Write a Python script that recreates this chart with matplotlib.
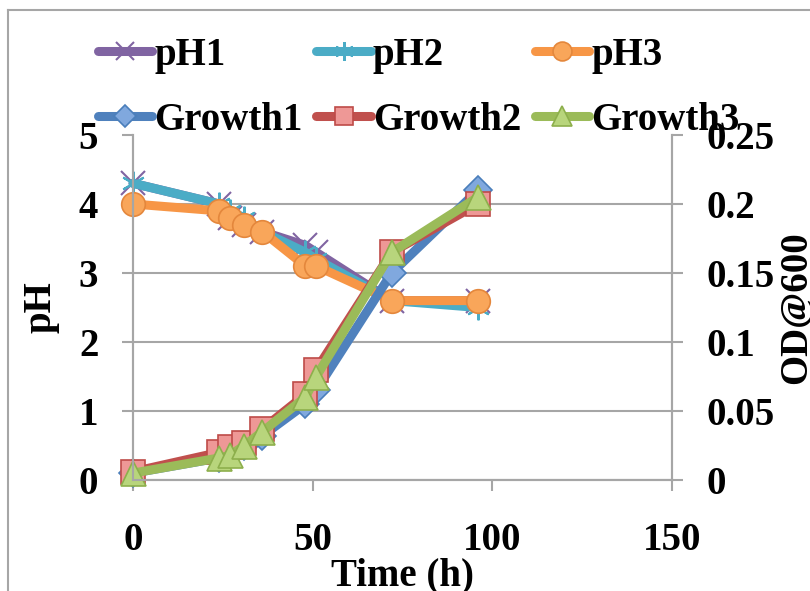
import matplotlib
matplotlib.use("Agg")
import matplotlib.pyplot as plt
from matplotlib.lines import Line2D

# data
time = [0, 24, 27, 31, 36, 48, 51, 72, 96]
ph1 = [4.3, 4.0, 3.8, 3.7, 3.6, 3.4, 3.3, 2.6, 2.6]
ph2 = [4.3, 4.0, 3.9, 3.8, 3.6, 3.3, 3.2, 2.6, 2.5]
ph3 = [4.0, 3.9, 3.8, 3.7, 3.6, 3.1, 3.1, 2.6, 2.6]
growth1 = [0.005, 0.016, 0.020, 0.025, 0.032, 0.055, 0.065, 0.150, 0.210]
growth2 = [0.006, 0.020, 0.024, 0.027, 0.037, 0.062, 0.080, 0.165, 0.200]
growth3 = [0.005, 0.016, 0.018, 0.025, 0.035, 0.060, 0.075, 0.165, 0.205]

ph_ticks = [0, 1, 2, 3, 4, 5]
od_ticks = [0, 0.05, 0.1, 0.15, 0.2, 0.25]
time_ticks = [0, 50, 100, 150]

plt.rcParams['font.family'] = ['Liberation Serif', 'DejaVu Serif']
plt.rcParams['font.weight'] = 'bold'

grey = '#A6A6A6'
fs = 28

fig = plt.figure(figsize=(8.1, 5.91), dpi=100)
ax = fig.add_axes([133/810, 111/591, 539/810, 345/591])
ax2 = ax.twinx()

lw = 6.5
ms = 17
# ! pH series on the left axis
ax.plot(time, ph1, color='#8064A2', lw=lw, marker='x', ms=ms, mew=1.5,
        mec='#8064A2', label='pH1', clip_on=False, solid_capstyle='round')
ax.plot(time, ph2, color='#4BACC6', lw=lw, marker=(6, 2, 0), ms=ms, mew=1.5,
        mec='#4BACC6', label='pH2', clip_on=False, solid_capstyle='round')
ax.plot(time, ph3, color='#F79646', lw=lw, marker='o', ms=ms, mew=1.2,
        mfc='#F9A65A', mec='#E4873C', label='pH3', clip_on=False, solid_capstyle='round')

# ! growth on the right axis
ax2.plot(time, growth1, color='#4F81BD', lw=lw, marker='D', ms=ms-3, mew=1.2,
         mfc='#80A8DE', mec='#4A7EBB', label='Growth1', clip_on=False, solid_capstyle='round')
ax2.plot(time, growth2, color='#C0504D', lw=lw, marker='s', ms=ms, mew=1.2,
         mfc='#EE9896', mec='#BE4B48', label='Growth2', clip_on=False, solid_capstyle='round')
ax2.plot(time, growth3, color='#9BBB59', lw=lw, marker='^', ms=ms+1, mew=1.2,
         mfc='#B8D57C', mec='#8DAF4C', label='Growth3', clip_on=False, solid_capstyle='round')

ax.set_xlim(0, 150)
ax.set_ylim(0, 5)
ax2.set_ylim(0, 0.25)
ax.set_xticks(time_ticks)
ax.set_yticks(ph_ticks)
ax2.set_yticks(od_ticks)
ax2.set_yticklabels(['{:g}'.format(v) for v in od_ticks])

ax.yaxis.grid(True, color=grey, lw=1.5)
ax.set_axisbelow(True)
ax.yaxis.get_major_ticks()[-1].gridline.set_visible(False)

for a in (ax, ax2):
    for s in a.spines.values():
        s.set_color(grey)
        s.set_linewidth(1.5)
    a.spines['top'].set_visible(False)
    a.tick_params(direction='out', length=8, width=1.5, color=grey,
                  labelsize=fs, pad=17)
ax.tick_params(axis='x', pad=22)

ax.set_xlabel('Time (h)', fontsize=fs, fontweight='bold', labelpad=-1)
ax.set_ylabel('pH', fontsize=fs, fontweight='bold', labelpad=14)
ax2.set_ylabel('OD@600', fontsize=fs, fontweight='bold', labelpad=2)

# legend fills by column, so interleave to get pH on row 1, growth on row 2
h1, l1 = ax.get_legend_handles_labels()
h2, l2 = ax2.get_legend_handles_labels()
handles, labels = [], []
for i in range(3):
    handles += [h1[i], h2[i]]
    labels += [l1[i], l2[i]]
fig.legend(handles, labels, ncol=3, loc='upper left',
           bbox_to_anchor=(98/810, 1 - 37/591), frameon=False,
           prop={'size': fs, 'weight': 'bold'}, handlelength=1.4,
           handletextpad=0.05, columnspacing=0.35, labelspacing=0.72,
           markerscale=0.8, borderpad=0, borderaxespad=0)

# outer chart border
fig.add_artist(Line2D([8/810, 8/810], [0, 1 - 10/591], color=grey, lw=1.5))
fig.add_artist(Line2D([8/810, 1], [1 - 10/591, 1 - 10/591], color=grey, lw=1.5))

fig.savefig('out.png', dpi=100)
